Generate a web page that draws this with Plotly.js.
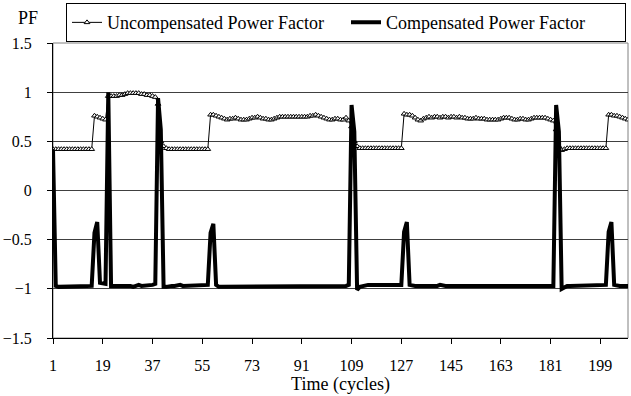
<!DOCTYPE html>
<html>
<head>
<meta charset="utf-8">
<script src="https://cdn.plot.ly/plotly-3.0.1.min.js"></script>
<style>html,body{margin:0;padding:0;background:#fff;}#chart{width:631px;height:396px;}</style>
</head>
<body>
<div id="chart"></div>
<script>
// Tick labels of the category axis (time in cycles)
const tickLabels = [1, 19, 37, 55, 73, 91, 109, 127, 145, 163, 181, 199];
const seriesNames = ["Uncompensated Power Factor", "Compensated Power Factor"];

// Uncompensated power factor, cycles 1..209
const uncompensated = [
  0.42,0.42,0.42,0.42,0.42,0.42,0.42,0.42,0.42,0.42,0.42,0.42,0.42,0.42,0.42,
  0.76,0.75,0.74,0.73,0.72,
  0.96,0.96,0.96,0.96,0.97,0.97,0.98,0.99,0.99,0.99,0.99,0.99,0.98,0.98,0.97,0.97,0.96,0.95,
  0.88,0.50,0.45,0.43,
  0.42,0.42,0.42,0.42,0.42,0.42,0.42,0.42,0.42,0.42,0.42,0.42,0.42,0.42,0.42,
  0.77,0.77,0.76,0.75,0.74,0.73,0.72,0.73,0.73,0.74,
  0.73,0.72,0.72,0.72,0.73,0.74,0.74,0.75,0.74,0.73,
  0.73,0.72,0.72,0.73,0.74,0.75,0.75,0.75,0.75,0.75,
  0.75,0.75,0.75,0.75,0.75,0.75,0.76,0.76,0.77,0.76,
  0.75,0.74,0.73,0.72,0.72,0.73,0.73,0.72,0.72,0.74,
  0.71,0.65,
  0.50,0.45,0.43,
  0.43,0.43,0.43,0.43,0.43,0.43,0.43,0.43,0.43,0.43,0.43,0.43,0.43,0.43,0.43,
  0.78,0.77,0.77,0.76,0.74,0.72,0.71,0.73,0.74,0.75,
  0.74,0.75,0.75,0.74,0.75,0.75,0.74,0.75,0.75,0.74,
  0.75,0.74,0.74,0.73,0.73,0.73,0.74,0.73,0.73,0.73,
  0.72,0.72,0.72,0.72,0.72,0.73,0.74,0.74,0.74,0.73,
  0.72,0.72,0.73,0.73,0.72,0.72,0.73,0.74,0.74,0.74,
  0.74,0.74,0.73,0.72,0.71,
  0.62,0.45,0.41,0.42,
  0.43,0.43,0.43,0.43,0.43,0.43,0.43,0.43,0.43,0.43,0.43,0.43,0.43,0.43,0.43,
  0.77,0.77,0.76,0.76,0.75,0.74,0.73,0.72
];

// Compensated power factor, cycles 1..209
const compensated = [
  0.42,
  -0.97,-0.98,-0.98,-0.98,-0.98,-0.98,-0.98,-0.98,-0.98,-0.98,-0.98,-0.98,-0.97,-0.97,
  -0.43,-0.32,-0.94,-0.95,-0.95,1.00,-0.97,
  -0.97,-0.97,-0.97,-0.97,-0.96,-0.97,-0.97,-0.98,-0.97,-0.96,-0.97,-0.97,-0.97,-0.97,-0.96,-0.95,
  0.94,0.62,-0.98,
  -0.98,-0.97,-0.97,-0.97,-0.96,-0.96,-0.97,-0.97,-0.97,-0.97,-0.96,-0.96,-0.97,-0.97,-0.97,-0.96,
  -0.43,-0.34,-0.96,
  -0.98,-0.98,-0.98,-0.97,-0.97,-0.97,-0.98,-0.98,-0.97,-0.97,
  -0.97,-0.98,-0.98,-0.97,-0.97,-0.97,-0.97,-0.98,-0.98,-0.98,
  -0.98,-0.98,-0.98,-0.98,-0.98,-0.98,-0.98,-0.98,-0.98,-0.98,
  -0.98,-0.98,-0.98,-0.97,-0.97,-0.98,-0.98,-0.98,-0.98,-0.97,
  -0.97,-0.98,-0.98,-0.98,-0.97,-0.97,-0.97,-0.96,
  0.87,0.60,-1.01,-0.98,
  -0.97,-0.97,-0.96,-0.96,-0.96,-0.97,-0.97,-0.97,-0.97,-0.97,-0.97,-0.97,-0.97,-0.97,-0.96,
  -0.42,-0.32,-0.96,
  -0.97,-0.97,-0.97,-0.97,-0.98,-0.98,-0.97,-0.97,-0.97,-0.97,
  -0.96,-0.97,-0.97,-0.97,-0.97,-0.97,-0.97,-0.98,-0.98,-0.97,
  -0.97,-0.97,-0.97,-0.97,-0.98,-0.98,-0.97,-0.97,-0.97,-0.97,
  -0.97,-0.98,-0.98,-0.98,-0.97,-0.97,-0.97,-0.97,-0.98,-0.98,
  -0.98,-0.98,-0.97,-0.97,-0.97,-0.97,-0.97,-0.97,-0.97,-0.97,
  -0.97,-0.97,
  0.87,0.60,-1.00,-0.98,
  -0.97,-0.97,-0.97,-0.97,-0.97,-0.96,-0.96,-0.97,-0.97,-0.97,-0.97,-0.97,-0.97,-0.97,-0.96,
  -0.42,-0.32,-0.96,
  -0.97,-0.97,-0.97,-0.97,-0.97
];

const cycles = uncompensated.map((_, i) => i + 1);

const traces = [
  {
    x: cycles, y: uncompensated, name: seriesNames[0], type: 'scatter', mode: 'lines+markers',
    line: {color: '#000', width: 1},
    marker: {symbol: 'triangle-up', size: 5, color: '#fff', line: {color: '#000', width: 1}}
  },
  {
    x: cycles, y: compensated, name: seriesNames[1], type: 'scatter', mode: 'lines',
    line: {color: '#000', width: 4}
  }
];

const font = '"Times New Roman", Times, "Liberation Serif", "DejaVu Serif", serif';
const layout = {
  width: 631, height: 396,
  margin: {l: 53, r: 3, t: 43, b: 58, pad: 0},
  paper_bgcolor: '#fff', plot_bgcolor: '#fff',
  font: {family: font, color: '#000', size: 16},
  xaxis: {
    range: [1, 209], tickmode: 'array', tickvals: tickLabels, ticktext: tickLabels.map(String),
    ticks: 'outside', ticklen: 5, tickcolor: '#000', tickwidth: 1,
    showline: true, linecolor: '#000', linewidth: 1, showgrid: false, zeroline: false,
    tickfont: {size: 16, family: font, color: '#000'}, ticklabelstandoff: 8,
    title: {text: 'Time (cycles)', font: {size: 18, family: font, color: '#000'}, standoff: 0}
  },
  yaxis: {
    range: [-1.5, 1.5], tickmode: 'linear', tick0: -1.5, dtick: 0.5,
    ticks: 'outside', ticklen: 5, tickcolor: '#000', tickwidth: 1,
    showline: true, linecolor: '#000', linewidth: 1,
    showgrid: true, gridcolor: '#404040', gridwidth: 1, zeroline: false,
    tickfont: {size: 16, family: font, color: '#000'}, ticklabelstandoff: 12
  },
  showlegend: true,
  legend: {
    orientation: 'h', xref: 'container', yref: 'container',
    x: 0.1046, y: 0.992, xanchor: 'left', yanchor: 'top',
    bordercolor: '#000', borderwidth: 1, bgcolor: '#fff',
    font: {size: 18, family: font, color: '#000'}, tracegroupgap: 0,
    entrywidth: 234, entrywidthmode: 'pixels'
  },
  shapes: [{type: 'rect', xref: 'paper', yref: 'paper', x0: 0, x1: 1, y0: 0, y1: 1,
    line: {color: '#808080', width: 1}, layer: 'below'}],
  annotations: [{text: 'PF', xref: 'paper', yref: 'paper', x: -0.064, y: 1.085,
    xanchor: 'left', yanchor: 'middle', showarrow: false, font: {size: 18, family: font, color: '#000'}}]
};

Plotly.newPlot('chart', traces, layout, {displayModeBar: false, staticPlot: true});
</script>
</body>
</html>
